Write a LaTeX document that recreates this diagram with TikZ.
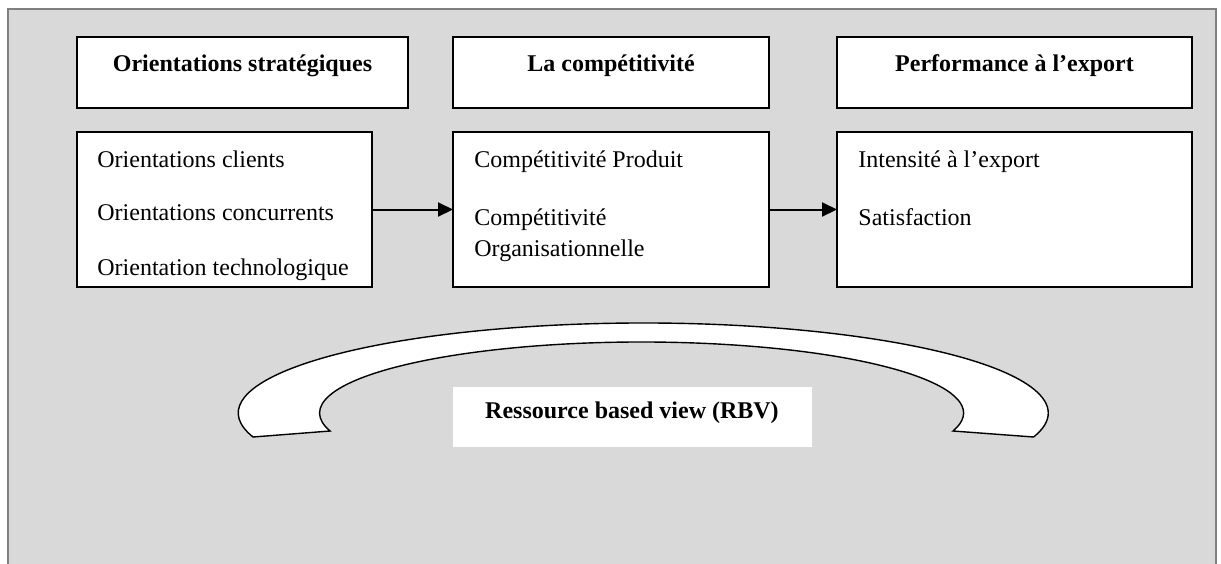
\documentclass[tikz,border=0pt]{standalone}
\usepackage{fontspec}
\setmainfont{Liberation Serif}
\usetikzlibrary{arrows.meta}
\definecolor{panel}{RGB}{217,217,217}
\definecolor{frameline}{RGB}{128,128,128}
\begin{document}
\begin{tikzpicture}[x=0.5pt,y=-0.5pt,
  box/.style={draw=black, fill=white, line width=1pt, anchor=north west,
    inner sep=0pt, outer sep=0pt},
  headtext/.style={font=\bfseries\fontsize{12}{14}\selectfont, anchor=base, inner sep=0pt},
  itemtext/.style={font=\fontsize{12}{14}\selectfont, anchor=base west, inner sep=0pt},
  link/.style={line width=1pt, -{Triangle[length=7.5pt,width=7pt]}},
  band/.style={draw=black, fill=white, line width=0.7pt}]
\clip (0,0) rectangle (1221,563);
% grey panel, open at the bottom
\fill[panel] (8,9) rectangle (1216,580);
\draw[frameline, line width=1pt] (8,580) -- (8,9) -- (1216,9) -- (1216,580);

% header boxes
\node[box, minimum width=165.5pt, minimum height=35.5pt] (t1) at (77,37) {};
\node[box, minimum width=158pt,   minimum height=35.5pt] (t2) at (453,37) {};
\node[box, minimum width=177.5pt, minimum height=35.5pt] (t3) at (837,37) {};
\node[headtext] (t1txt) at (242.5,71) {Orientations stratégiques};
\node[headtext] (t2txt) at (611,71) {La compétitivité};
\node[headtext] (t3txt) at (1014.5,71) {Performance à l’export};

% content boxes
\node[box, minimum width=147.5pt, minimum height=77.5pt] (b1) at (77,132) {};
\node[box, minimum width=158pt,   minimum height=77.5pt] (b2) at (453,132) {};
\node[box, minimum width=177.5pt, minimum height=77.5pt] (b3) at (837,132) {};

\node[itemtext] (b1a) at (97,167) {Orientations clients};
\node[itemtext] (b1b) at (97,220) {Orientations concurrents};
\node[itemtext] (b1c) at (97,275) {Orientation technologique};

\node[itemtext] (b2a) at (474,167) {Compétitivité Produit};
\node[itemtext] (b2b) at (474,225) {Compétitivité};
\node[itemtext] (b2c) at (474,256) {Organisationnelle};

\node[itemtext] (b3a) at (858,167) {Intensité à l’export};
\node[itemtext] (b3b) at (858,225) {Satisfaction};

% links between the stages
\draw[link] (b1.east) -- (b2.west);
\draw[link] (b2.east) -- (b3.west);

% curved band under the stages
\draw[band] (253,437)
  arc[start angle=195.47, end angle=-15.47, x radius=202.5pt, y radius=45pt]
  -- (953,431)
  arc[start angle=-14.69, end angle=194.69, x radius=161pt, y radius=35.5pt]
  -- cycle;

% RBV label
\node[fill=white, minimum width=179.5pt, minimum height=30pt, anchor=north west,
  inner sep=0pt] (rbvbox) at (453,387) {};
\node[headtext] (rbv) at (632,418) {Ressource based view (RBV)};
\end{tikzpicture}
\end{document}
